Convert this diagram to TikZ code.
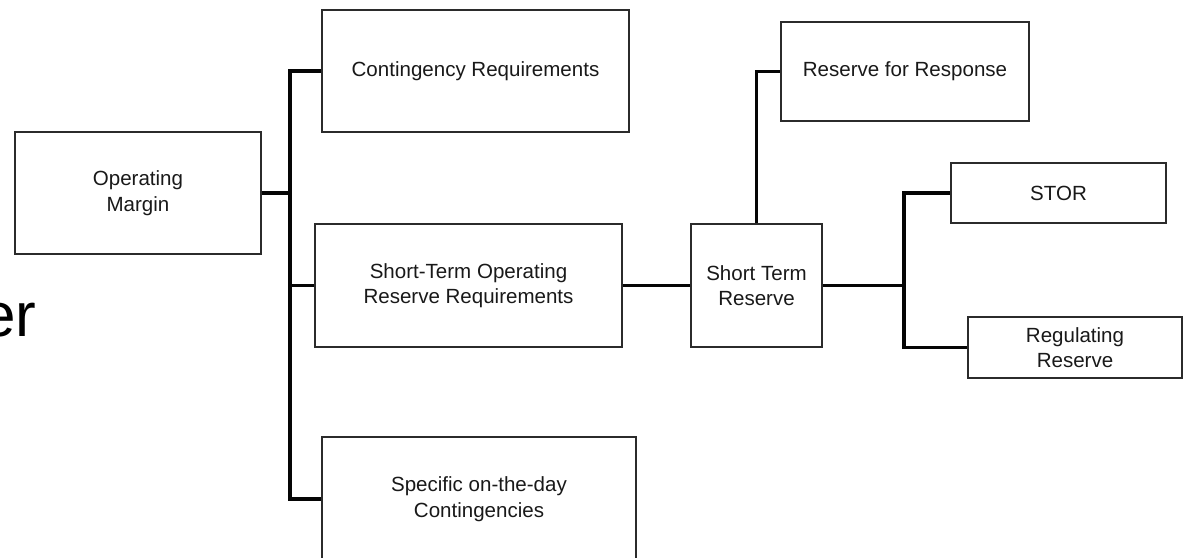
\documentclass[tikz,border=0pt]{standalone}
\usepackage{fontspec}
\setmainfont{Liberation Sans}
\definecolor{boxline}{HTML}{2B2B2B}
\definecolor{linkc}{HTML}{050505}
\newdimen\pxu \pxu=0.75pt

\begin{document}
\begin{tikzpicture}[
  x=0.75pt, y=-0.75pt,
  font=\fontsize{15.4pt}{19.2pt}\selectfont,
  box/.style={rectangle, draw=boxline, line width=1.2pt, fill=white,
              align=center, inner sep=0pt, text=black!90},
  link/.style={draw=linkc, line width=2.6pt, line join=miter},
]
\useasboundingbox (0,0) rectangle (1185,557);
\clip (0,0) rectangle (1185,557);

% ---- left tree ----
\node[box, minimum width=246*\pxu, minimum height=122*\pxu] (opmargin) at (138,193)
  {Operating\\Margin};
\node[box, minimum width=307*\pxu, minimum height=122*\pxu] (contreq) at (475.5,71)
  {Contingency Requirements};
\node[box, minimum width=307*\pxu, minimum height=123*\pxu] (storreq) at (468.5,285.5)
  {Short-Term Operating\\Reserve Requirements};
\node[box, minimum width=314*\pxu, minimum height=124*\pxu] (otdcont) at (479,499)
  {Specific on-the-day\\Contingencies};

% ---- right tree ----
\node[box, minimum width=131*\pxu, minimum height=123*\pxu] (stres) at (756.5,285.5)
  {Short Term\\Reserve};
\node[box, minimum width=248*\pxu, minimum height=99*\pxu] (rfresp) at (905,71.5)
  {Reserve for Response};
\node[box, minimum width=215*\pxu, minimum height=60*\pxu] (stor) at (1058.5,193)
  {STOR};
\node[box, minimum width=214*\pxu, minimum height=61*\pxu] (regres) at (1075,347.5)
  {Regulating\\Reserve};

% ---- cut-off slide title ----
\node[anchor=base west, inner sep=0pt, font=\fontsize{46.5pt}{50pt}\selectfont] (ttl)
  at (-19,336) {er};

% ---- connectors ----
\coordinate (hubl) at (290,193);
\coordinate (hubr) at (904,285.5);
\draw[link] (opmargin.east) -- (hubl);
\draw[link] (contreq.west) -| (hubl);
\draw[link] (storreq.west) -| (hubl);
\draw[link] (otdcont.west) -| (hubl);
\draw[link] (storreq) -- (stres);
\draw[link] (stres.north) |- (rfresp.west);
\draw[link] (stres.east) -- (hubr);
\draw[link] (stor.west) -| (hubr);
\draw[link] (regres.west) -| (hubr);
\end{tikzpicture}
\end{document}
